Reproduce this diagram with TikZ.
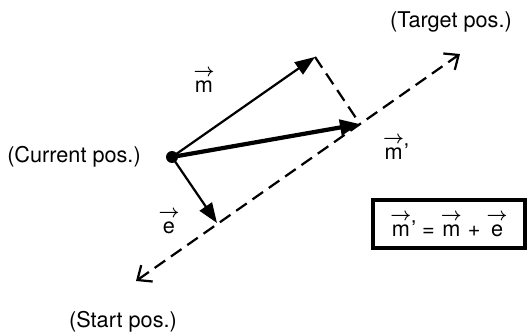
\documentclass[tikz,border=0pt]{standalone}
\usepackage{amsmath}
\usepackage{fontspec}
\setmainfont{TeX Gyre Heros}
\usetikzlibrary{arrows.meta}
\newcommand{\vc}[1]{$\overset{\scalebox{0.9}{$\boldsymbol{\rightarrow}$}}{\text{#1}}$}
\tikzset{
  vecarr/.style   = {-{Triangle[length=6mm,width=4.4mm]},line width=1.9pt},
  sumarr/.style   = {-{Triangle[length=6mm,width=4.6mm]},line width=3.6pt},
  pathline/.style = {{Straight Barb[length=3.5mm,width=6mm,line width=1.9pt]}-{Straight Barb[length=3.5mm,width=6mm,line width=1.9pt]},
                     dash pattern=on 11pt off 6pt,line width=1.9pt},
  projline/.style = {dash pattern=on 11pt off 6pt,line width=1.9pt},
  txt/.style      = {font=\fontsize{18.5}{22}\selectfont,inner sep=1pt}
}

\begin{document}
\begin{tikzpicture}[x=0.03cm,y=0.03cm]
  \useasboundingbox (0,0) rectangle (528,332);
  % positions
  \coordinate (cur)    at (172,175);
  \coordinate (mtip)   at (315,275);
  \coordinate (mptip)  at (360,208);
  \coordinate (etip)   at (217,109);
  \coordinate (start)  at (136,51);
  \coordinate (target) at (460,278);
  % start-target path
  \draw[pathline] (start) -- (target);
  \draw[projline] (mtip) -- (mptip);
  % vectors
  \draw[vecarr] (cur) -- (mtip);
  \draw[vecarr] (cur) -- (etip);
  \draw[sumarr] (cur) -- (mptip);
  \fill (cur) circle (6);
  % labels
  \node[txt] (curlbl)  at (74,175)  {(Current pos.)};
  \node[txt] (tarlbl)  at (451,310) {(Target pos.)};
  \node[txt] (stalbl)  at (123,10)  {(Start pos.)};
  \node[txt] (mlbl)    at (204,252) {\vc{m}};
  \node[txt] (mplbl)   at (396,185) {\vc{m}'};
  \node[txt] (elbl)    at (169,111) {\vc{e}};
  \node[txt,draw,line width=3pt,minimum width=4.55cm,minimum height=1.45cm] (eqbox) at (449,108)
    {\vc{m}' = \vc{m} + \vc{e}};
\end{tikzpicture}
\end{document}
